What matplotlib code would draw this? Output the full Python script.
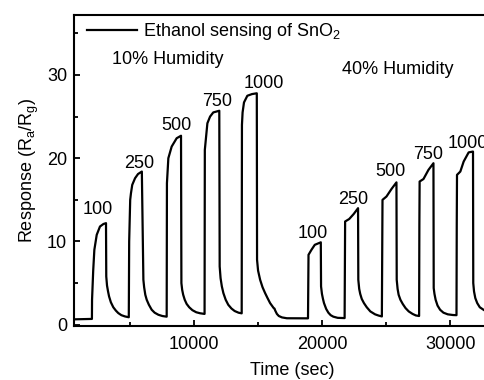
import matplotlib
matplotlib.use("Agg")
import matplotlib.pyplot as plt
from matplotlib.ticker import MultipleLocator

plt.rcParams['font.family'] = ['Liberation Sans', 'DejaVu Sans']
plt.rcParams['mathtext.default'] = 'regular'

# Sensor response trace (time in s, response Ra/Rg)
time_s = [
    600, 2000,
    # 100 ppm, 10% RH
    2010, 2100, 2190, 2375, 2630, 2900, 3100,
    3120, 3180, 3260, 3340, 3480, 3670, 3870, 4060, 4300, 4580, 4880,
    # 250 ppm
    4910, 4990, 5050, 5150, 5370, 5600, 5900,
    6020, 6080, 6170, 6280, 6450, 6670, 6900, 7190, 7500, 7840,
    # 500 ppm
    7860, 7970, 8230, 8620, 8960,
    8990, 9050, 9130, 9250, 9400, 9600, 9850, 10150, 10450, 10800,
    # 750 ppm
    10820, 11020, 11230, 11480, 11950,
    11980, 12050, 12150, 12270, 12450, 12650, 12900, 13150, 13450, 13700,
    # 1000 ppm
    13720, 13770, 13880, 14140, 14500, 14880,
    14900, 14980, 15140, 15330, 15530, 15720, 15920, 16100, 16200, 16260,
    16320, 16450, 16600, 16850, 17230, 18880,
    # 100 ppm, 40% RH
    18900, 18920, 19150, 19410, 19880,
    19900, 19970, 20050, 20130, 20300, 20470, 20650, 20860, 21200, 21740,
    # 250 ppm
    21760, 21780, 22100, 22450, 22790,
    22810, 22880, 22960, 23080, 23250, 23470, 23750, 24120, 24400, 24650,
    # 500 ppm
    24680, 24700, 25010, 25400, 25790,
    25810, 25880, 25960, 26100, 26280, 26500, 26750, 27050, 27300, 27560,
    # 750 ppm
    27580, 27600, 27900, 28290, 28680,
    28700, 28760, 28850, 29000, 29200, 29460, 29800, 30200, 30480,
    # 1000 ppm
    30500, 30520, 30780, 31040, 31430, 31770,
    31790, 31850, 31950, 32100, 32300, 32640, 33100, 33800, 34600,
]
response = [
    0.65, 0.7,
    3.0, 6.5, 9.0, 10.8, 11.8, 12.1, 12.2,
    5.8, 4.7, 4.0, 3.4, 2.7, 2.1, 1.7, 1.4, 1.15, 1.0, 0.9,
    10.0, 15.0, 15.8, 16.8, 17.6, 18.1, 18.4,
    5.4, 4.5, 3.6, 3.0, 2.4, 1.8, 1.45, 1.2, 1.05, 0.97,
    17.0, 20.0, 21.4, 22.4, 22.7,
    5.0, 4.2, 3.6, 3.0, 2.5, 2.1, 1.75, 1.5, 1.38, 1.3,
    21.0, 24.2, 25.0, 25.5, 25.7,
    7.0, 5.6, 4.6, 3.8, 3.0, 2.4, 1.95, 1.65, 1.45, 1.37,
    24.0, 25.5, 26.7, 27.5, 27.7, 27.8,
    7.8, 6.5, 5.4, 4.5, 3.8, 3.2, 2.6, 2.2, 2.0, 1.95,
    1.7, 1.3, 1.05, 0.88, 0.78, 0.77,
    5.0, 8.4, 9.0, 9.6, 9.9,
    4.6, 3.7, 3.1, 2.6, 1.9, 1.45, 1.15, 0.97, 0.83, 0.8,
    8.0, 12.4, 12.7, 13.3, 14.0,
    5.4, 4.3, 3.7, 3.1, 2.6, 2.1, 1.6, 1.25, 1.1, 1.0,
    10.0, 15.0, 15.4, 16.3, 17.1,
    5.4, 4.3, 3.6, 3.0, 2.5, 2.0, 1.6, 1.3, 1.12, 1.05,
    12.0, 17.2, 17.5, 18.6, 19.4,
    4.4, 3.7, 3.0, 2.3, 1.8, 1.45, 1.25, 1.17, 1.15,
    12.0, 18.0, 18.4, 19.6, 20.7, 20.8,
    5.0, 4.0, 3.2, 2.6, 2.1, 1.75, 1.4, 1.2, 1.1,
]

# Concentration labels (ppm) and their anchor positions (time, response)
conc_labels = ['100', '250', '500', '750', '1000',
               '100', '250', '500', '750', '1000']
label_t = [2430, 5720, 8620, 11760, 15400,
           19290, 22400, 25300, 28300, 31350]
label_y = [13.9, 19.4, 23.9, 26.8, 29.0,
           10.9, 15.0, 18.4, 20.5, 21.8]

humidity_text = ['10% Humidity', '40% Humidity']
humidity_t = [3550, 21550]
humidity_y = [31.8, 30.6]

legend_label = 'Ethanol sensing of SnO$_2$'

fig = plt.figure(figsize=(4.84, 3.8), dpi=100)
ax = fig.add_axes([74/484, 54/380, 436/484, 311/380])

ax.plot(time_s, response, color='black', lw=1.6, label=legend_label)

for s, t, y in zip(conc_labels, label_t, label_y):
    ax.text(t, y, s, ha='center', va='center', fontsize=13)
for s, t, y in zip(humidity_text, humidity_t, humidity_y):
    ax.text(t, y, s, ha='left', va='center', fontsize=13)

ax.set_xlim(600, 34660)
ax.set_ylim(-0.15, 37.2)
ax.xaxis.set_major_locator(MultipleLocator(10000))
ax.xaxis.set_minor_locator(MultipleLocator(5000))
ax.yaxis.set_major_locator(MultipleLocator(10))
ax.yaxis.set_minor_locator(MultipleLocator(5))
ax.tick_params(which='both', direction='in', labelsize=13, width=1.3)
ax.tick_params(which='major', length=4.5)
ax.tick_params(axis='y', which='major', pad=5)
ax.tick_params(axis='x', which='major', pad=7)
ax.tick_params(which='minor', length=3)
for sp in ax.spines.values():
    sp.set_linewidth(1.5)

ax.set_xlabel('Time (sec)', fontsize=13, labelpad=6.5)
ax.set_ylabel('Response (R$_a$/R$_g$)', fontsize=13, labelpad=4)

ax.legend(loc='upper left', bbox_to_anchor=(0.0, 1.02), frameon=False,
          fontsize=13, handlelength=2.8, handletextpad=0.3,
          borderaxespad=0.3)

fig.savefig('out.png', dpi=100)
